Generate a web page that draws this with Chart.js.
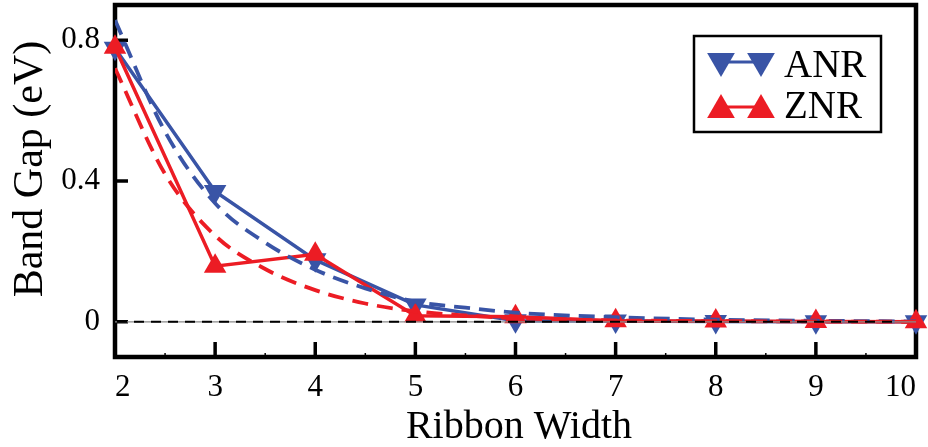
<!DOCTYPE html>
<html>
<head>
<meta charset="utf-8">
<script src="https://cdn.jsdelivr.net/npm/chart.js@4.4.1/dist/chart.umd.min.js"></script>
<style>
  html, body { margin: 0; padding: 0; background: #ffffff; }
  #wrap { width: 928px; height: 447px; }
</style>
</head>
<body>
<div id="wrap"><canvas id="gap" width="928" height="447"></canvas></div>
<script>
// Ribbon widths and computed band gaps (eV)
const widths = [2, 3, 4, 5, 6, 7, 8, 9, 10];
const anrGap = [0.777, 0.37, 0.176, 0.048, 0.003, 0.002, 0.001, 0.0, 0.0];
const znrGap = [0.78, 0.158, 0.192, 0.017, 0.014, 0.003, 0.002, 0.001, 0.0];

// Fitted decay curves
const fitWidths = [2, 2.5, 3, 3.5, 4, 4.5, 5, 5.5, 6, 7, 8, 9, 10];
const anrFit = [0.857, 0.54, 0.337, 0.225, 0.148, 0.095, 0.057, 0.04, 0.026, 0.013, 0.006, 0.003, 0.001];
const znrFit = [0.72, 0.42, 0.245, 0.15, 0.09, 0.052, 0.03, 0.018, 0.01, 0.004, 0.002, 0.001, 0.0];

// Axis ticks
const gapTicks = [0, 0.4, 0.8];
const widthTicks = [2, 3, 4, 5, 6, 7, 8, 9, 10];
const widthMinorTicks = [2.5, 3.5, 4.5, 5.5, 6.5, 7.5, 8.5, 9.5];

const labels = ['ANR', 'ZNR'];
const BLUE = '#3954a6';
const RED = '#ec1c24';
const SERIF = '"Liberation Serif", "Times New Roman", "DejaVu Serif", serif';

const pts = (xs, ys) => xs.map((x, i) => ({ x: x, y: ys[i] }));

// Frame, inward tick marks, zero reference line, titles and legend
const framePlugin = {
  id: 'frame',
  beforeDatasetsDraw(chart) {
    const { ctx, chartArea: a, scales: { x, y } } = chart;
    ctx.save();
    ctx.strokeStyle = '#000';
    ctx.lineWidth = 4.5;
    ctx.strokeRect(a.left, a.top, a.right - a.left, a.bottom - a.top);
    ctx.lineWidth = 3.5;
    ctx.beginPath();
    widthTicks.forEach(v => {
      const px = x.getPixelForValue(v);
      ctx.moveTo(px, a.bottom);
      ctx.lineTo(px, a.bottom - 15);
    });
    gapTicks.forEach(v => {
      const py = y.getPixelForValue(v);
      ctx.moveTo(a.left, py);
      ctx.lineTo(a.left + 13, py);
    });
    ctx.stroke();
    ctx.lineWidth = 1.5;
    ctx.beginPath();
    widthMinorTicks.forEach(v => {
      const px = x.getPixelForValue(v);
      ctx.moveTo(px, a.bottom);
      ctx.lineTo(px, a.bottom - 4);
    });
    ctx.stroke();
    ctx.restore();
  },
  afterDatasetsDraw(chart) {
    const { ctx, chartArea: a, scales: { y } } = chart;
    const y0 = y.getPixelForValue(0);
    ctx.save();
    ctx.strokeStyle = '#8a8a8a';
    ctx.lineWidth = 1.2;
    ctx.beginPath();
    ctx.moveTo(a.left, y0);
    ctx.lineTo(a.right, y0);
    ctx.stroke();
    ctx.strokeStyle = '#000';
    ctx.lineWidth = 2;
    ctx.setLineDash([10, 7]);
    ctx.beginPath();
    ctx.moveTo(a.left + 2, y0);
    ctx.lineTo(a.right - 20, y0);
    ctx.stroke();
    ctx.restore();
  },
  afterDraw(chart) {
    const { ctx } = chart;
    ctx.save();
    ctx.fillStyle = '#000';
    // axis titles
    ctx.font = '40px ' + SERIF;
    ctx.textAlign = 'center';
    ctx.textBaseline = 'alphabetic';
    ctx.fillText('Ribbon Width', 519, 438);
    ctx.translate(42, 169);
    ctx.rotate(-Math.PI / 2);
    ctx.font = '42px ' + SERIF;
    ctx.fillText('Band Gap (eV)', 0, 0);
    ctx.restore();

    // legend
    ctx.save();
    ctx.fillStyle = '#fff';
    ctx.fillRect(694, 36, 187, 96);
    ctx.strokeStyle = '#000';
    ctx.lineWidth = 2.5;
    ctx.strokeRect(694, 36, 187, 96);
    const entries = [
      { text: labels[0], color: BLUE, rot: 180, cy: 61, ly: 62, by: 77 },
      { text: labels[1], color: RED, rot: 0, cy: 110, ly: 107, by: 118 }
    ];
    entries.forEach(e => {
      ctx.strokeStyle = e.color;
      ctx.lineWidth = 3;
      ctx.beginPath();
      ctx.moveTo(721, e.ly);
      ctx.lineTo(761, e.ly);
      ctx.stroke();
      ctx.fillStyle = e.color;
      [721, 761].forEach(cx => {
        Chart.helpers.drawPoint(ctx, { pointStyle: 'triangle', radius: 16, rotation: e.rot, borderWidth: 0 }, cx, e.cy);
      });
      ctx.fillStyle = '#000';
      ctx.font = '39px ' + SERIF;
      ctx.textAlign = 'left';
      ctx.textBaseline = 'alphabetic';
      ctx.fillText(e.text, 784, e.by);
    });
    ctx.restore();
  }
};

new Chart(document.getElementById('gap'), {
  type: 'line',
  data: {
    datasets: [
      {
        label: labels[1] + ' fit',
        data: pts(fitWidths, znrFit),
        borderColor: RED,
        borderWidth: 3.8,
        borderDash: [16, 9],
        pointRadius: 0,
        cubicInterpolationMode: 'monotone',
        fill: false
      },
      {
        label: labels[0] + ' fit',
        data: pts(fitWidths, anrFit),
        borderColor: BLUE,
        borderWidth: 3.8,
        borderDash: [16, 9],
        pointRadius: 0,
        cubicInterpolationMode: 'monotone',
        fill: false
      },
      {
        label: labels[1],
        data: pts(widths, znrGap),
        borderColor: RED,
        backgroundColor: RED,
        borderWidth: 3.5,
        pointStyle: 'triangle',
        pointRadius: 13,
        pointBorderWidth: 0,
        pointRotation: 0,
        tension: 0,
        clip: false,
        fill: false
      },
      {
        label: labels[0],
        data: pts(widths, anrGap),
        borderColor: BLUE,
        backgroundColor: BLUE,
        borderWidth: 3.5,
        pointStyle: 'triangle',
        pointRadius: 13,
        pointBorderWidth: 0,
        pointRotation: 180,
        tension: 0,
        clip: false,
        fill: false
      }
    ]
  },
  options: {
    responsive: false,
    animation: false,
    events: [],
    layout: { autoPadding: false, padding: { left: 0, right: 12, top: 5, bottom: 0 } },
    plugins: { legend: { display: false }, tooltip: { enabled: false } },
    scales: {
      x: {
        type: 'linear',
        min: 2,
        max: 10,
        afterBuildTicks: s => { s.ticks = widthTicks.map(v => ({ value: v })); },
        afterFit: s => { s.height = 90; s.paddingLeft = 0; s.paddingRight = 0; },
        grid: { display: false, drawTicks: false },
        border: { display: false },
        ticks: {
          align: 'inner',
          padding: 12,
          color: '#000',
          maxRotation: 0,
          font: { family: SERIF, size: 31 }
        }
      },
      y: {
        type: 'linear',
        min: -0.1,
        max: 0.9,
        afterBuildTicks: s => { s.ticks = gapTicks.map(v => ({ value: v })); },
        afterFit: s => { s.width = 115; s.paddingTop = 0; s.paddingBottom = 0; },
        grid: { display: false, drawTicks: false },
        border: { display: false },
        ticks: {
          padding: 15,
          color: '#000',
          font: { family: SERIF, size: 31 },
          callback: v => String(v)
        }
      }
    }
  },
  plugins: [framePlugin]
});
</script>
</body>
</html>
